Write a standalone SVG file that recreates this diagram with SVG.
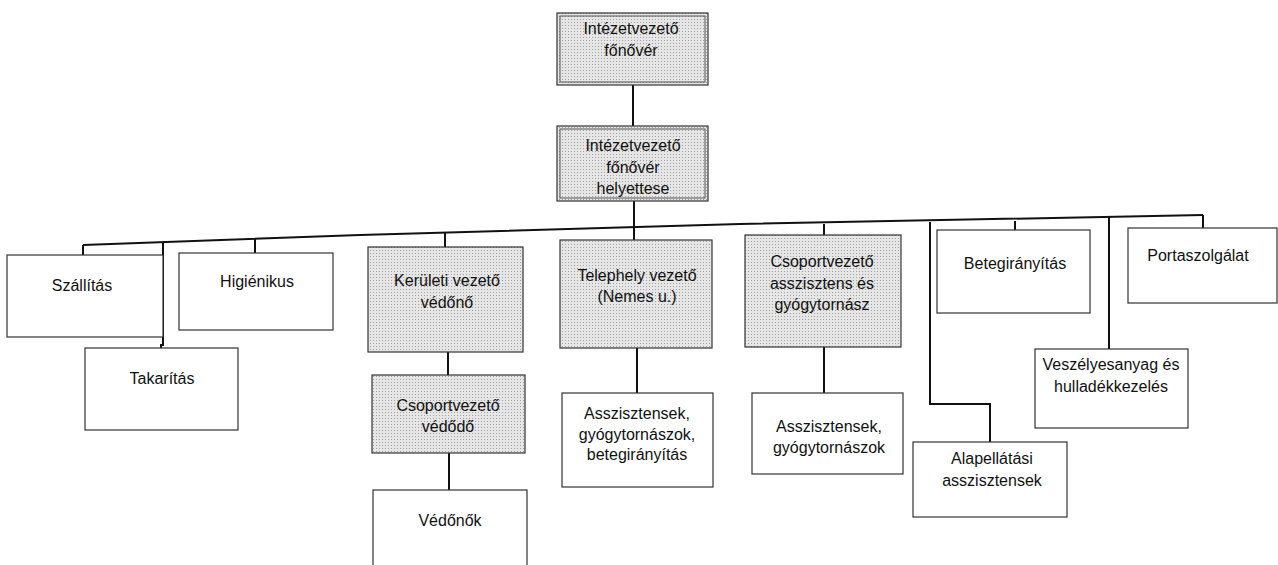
<svg xmlns="http://www.w3.org/2000/svg" width="1278" height="565" viewBox="0 0 1278 565">
<defs>
<pattern id="stip" width="3" height="3" patternUnits="userSpaceOnUse">
<rect width="3" height="3" fill="#e6e6e6"/>
<rect x="1" y="1" width="1" height="1" fill="#a0a0a0"/>
</pattern>
</defs>
<style>
.box{fill:#fff;stroke:#333;stroke-width:1.2}
.sh{fill:url(#stip);stroke:#333;stroke-width:1.2}
.inner{fill:none;stroke:#555;stroke-width:1}
.con{fill:none;stroke:#111;stroke-width:2}
text{font-family:"Liberation Sans",Arial,sans-serif;font-size:16px;fill:#111;text-anchor:middle}
</style>
<rect width="1278" height="565" fill="#fff"/>
<g id="connectors">
<line class="con" x1="633" y1="85" x2="633" y2="126"/>
<line class="con" x1="634" y1="201" x2="634" y2="240"/>
<polyline class="con" points="83,245 360,235 740,224 1203,215"/>
<line class="con" x1="83" y1="245" x2="83" y2="255"/>
<line class="con" x1="255" y1="239" x2="255" y2="253"/>
<polyline class="con" points="163,243 163,345 161,345 161,348"/>
<line class="con" x1="445" y1="233" x2="445" y2="247"/>
<line class="con" x1="448" y1="352" x2="448" y2="375"/>
<line class="con" x1="449" y1="453" x2="449" y2="490"/>
<line class="con" x1="637" y1="348" x2="637" y2="393"/>
<line class="con" x1="824" y1="224" x2="824" y2="235"/>
<line class="con" x1="824" y1="347" x2="824" y2="393"/>
<polyline class="con" points="930,222 930,404 990,404 990,442"/>
<line class="con" x1="1015" y1="221" x2="1015" y2="230"/>
<line class="con" x1="1109" y1="217" x2="1109" y2="349"/>
<line class="con" x1="1203" y1="215" x2="1203" y2="228"/>
</g>
<g id="n1"><rect class="sh" x="557" y="13" width="151" height="72"/><rect class="inner" x="560" y="16" width="145" height="66"/><text x="631" y="34">Intézetvezető</text><text x="631" y="56">főnővér</text></g>
<g id="n2"><rect class="sh" x="557" y="126" width="151" height="75"/><rect class="inner" x="560" y="129" width="145" height="69"/><text x="633" y="151">Intézetvezető</text><text x="633" y="173">főnővér</text><text x="633" y="194">helyettese</text></g>
<g id="n3"><rect class="box" x="7" y="255" width="156" height="82"/><text x="82" y="291">Szállítás</text></g>
<g id="n4"><rect class="box" x="179" y="253" width="154" height="77"/><text x="257" y="287">Higiénikus</text></g>
<g id="n5"><rect class="box" x="85" y="348" width="153" height="82"/><text x="162" y="384">Takarítás</text></g>
<g id="n6"><rect class="sh" x="368" y="247" width="155" height="105"/><text x="447" y="286">Kerületi vezető</text><text x="447" y="308">védőnő</text></g>
<g id="n7"><rect class="sh" x="372" y="375" width="153" height="78"/><text x="448" y="411">Csoportvezető</text><text x="448" y="432">védődő</text></g>
<g id="n8"><rect class="box" x="373" y="490" width="154" height="80"/><text x="450" y="526">Védőnők</text></g>
<g id="n9"><rect class="sh" x="560" y="240" width="152" height="108"/><text x="637" y="281">Telephely vezető</text><text x="637" y="302">(Nemes u.)</text></g>
<g id="n10"><rect class="box" x="562" y="393" width="151" height="94"/><text x="637" y="419">Asszisztensek,</text><text x="637" y="440">gyógytornászok,</text><text x="637" y="460">betegirányítás</text></g>
<g id="n11"><rect class="sh" x="745" y="235" width="156" height="112"/><text x="822" y="267">Csoportvezető</text><text x="822" y="289">asszisztens és</text><text x="822" y="310">gyógytornász</text></g>
<g id="n12"><rect class="box" x="752" y="393" width="151" height="81"/><text x="829" y="432">Asszisztensek,</text><text x="829" y="453">gyógytornászok</text></g>
<g id="n13"><rect class="box" x="937" y="230" width="153" height="83"/><text x="1015" y="269">Betegirányítás</text></g>
<g id="n14"><rect class="box" x="913" y="442" width="154" height="75"/><text x="992" y="464">Alapellátási</text><text x="992" y="486">asszisztensek</text></g>
<g id="n15"><rect class="box" x="1035" y="349" width="153" height="79"/><text x="1111" y="370">Veszélyesanyag és</text><text x="1111" y="392">hulladékkezelés</text></g>
<g id="n16"><rect class="box" x="1128" y="228" width="149" height="75"/><text x="1198" y="261">Portaszolgálat</text></g>
</svg>
